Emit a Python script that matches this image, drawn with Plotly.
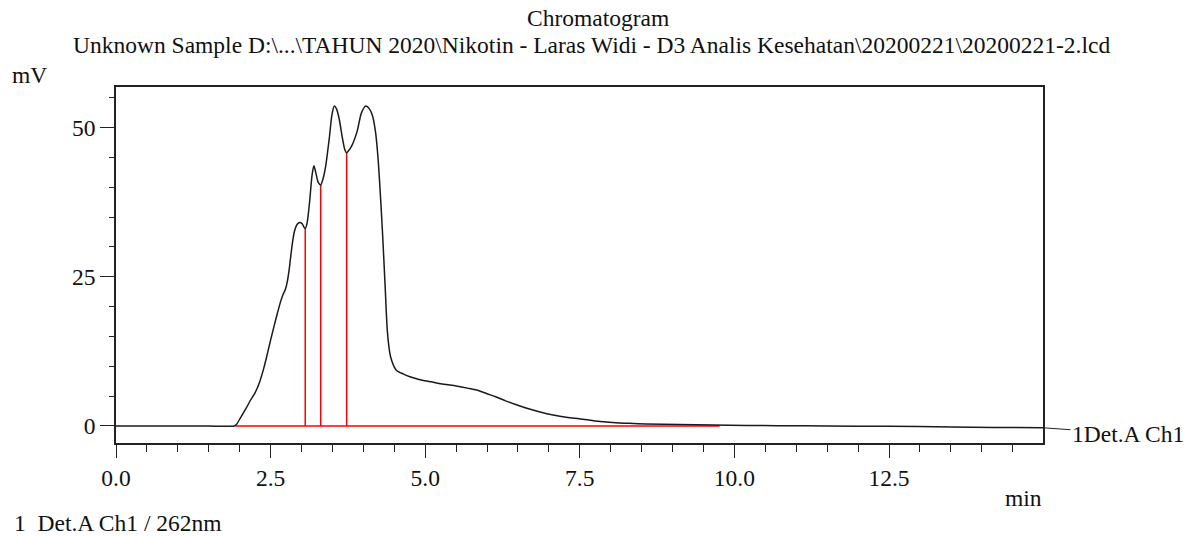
import plotly.graph_objects as go

# ---- data ----
time_min = [0.0, 0.5, 1.0, 1.5, 1.91, 1.95, 2.02, 2.10, 2.18, 2.25, 2.32, 2.39, 2.45, 2.50,
            2.56, 2.61, 2.66, 2.70, 2.74, 2.77, 2.80, 2.83, 2.86, 2.89, 2.93, 2.97, 3.01,
            3.04, 3.06, 3.09, 3.13, 3.17, 3.20, 3.23, 3.27, 3.31, 3.35, 3.39, 3.45, 3.49,
            3.53, 3.57, 3.61, 3.66, 3.70, 3.73, 3.78, 3.82, 3.90, 3.97, 4.04, 4.10, 4.15,
            4.20, 4.24, 4.28, 4.31, 4.35, 4.39, 4.44, 4.53, 4.65, 4.74, 4.9, 5.1, 5.3,
            5.5, 5.7, 5.87, 6.0, 6.14, 6.3, 6.52, 6.7, 6.95, 7.2, 7.49, 7.75, 8.03, 8.3,
            8.57, 9.1, 9.65, 10.2, 10.7, 11.5, 12.5, 13.5, 14.2, 15.0]
signal_mv = [0.0, 0.0, 0.0, 0.0, 0.0, 0.3, 1.5, 2.9, 4.4, 5.6, 7.3, 9.7, 12.2, 14.4,
             16.9, 18.9, 20.8, 22.0, 22.9, 24.2, 26.2, 28.8, 31.2, 32.8, 33.8, 34.1, 33.9,
             33.3, 33.1, 34.0, 37.5, 42.0, 43.6, 42.5, 40.8, 40.4, 41.5, 43.5, 48.3, 52.0,
             53.6, 53.0, 51.4, 48.3, 46.3, 45.8, 46.4, 47.1, 49.4, 52.5, 53.6, 53.1, 51.9,
             49.0, 44.5, 37.9, 32.3, 23.9, 15.6, 11.6, 9.4, 8.7, 8.3, 7.8, 7.4, 7.0,
             6.7, 6.3, 5.9, 5.4, 4.9, 4.2, 3.4, 2.8, 2.1, 1.6, 1.2, 0.85, 0.6, 0.45,
             0.34, 0.24, 0.17, 0.1, 0.05, 0.0, -0.05, -0.15, -0.25, -0.3]

drop_times = [3.06, 3.31, 3.73]
drop_heights = [33.1, 40.4, 45.8]
baseline_x = [1.93, 9.76]
baseline_y = [0.0, 0.0]

x_tick_vals = [0.0, 2.5, 5.0, 7.5, 10.0, 12.5]
x_tick_text = ["0.0", "2.5", "5.0", "7.5", "10.0", "12.5"]
y_tick_vals = [0, 25, 50]
y_tick_text = ["0", "25", "50"]

FONT = "Liberation Serif"
FS = 23.5

fig = go.Figure()

# red integration baseline
fig.add_trace(go.Scatter(x=baseline_x, y=baseline_y, mode="lines",
                         line=dict(color="#ff0000", width=1.5), hoverinfo="skip"))
# red drop lines
for t, h in zip(drop_times, drop_heights):
    fig.add_trace(go.Scatter(x=[t, t], y=[0, h], mode="lines",
                             line=dict(color="#ff0000", width=1.5), hoverinfo="skip"))
# chromatogram trace
fig.add_trace(go.Scatter(x=time_min, y=signal_mv, mode="lines",
                         line=dict(color="#1a1a1a", width=1.5, shape="spline", smoothing=0.7)))

L, R, T, B = 116, 153, 87, 93
W, H = 1196, 536
pw = W - L - R
ph = H - T - B

def px(xp):
    return (xp - L) / pw

def py(yp):
    return (H - B - yp) / ph

fig.update_layout(
    width=W, height=H,
    margin=dict(l=L, r=R, t=T, b=B),
    paper_bgcolor="white", plot_bgcolor="white",
    showlegend=False,
    font=dict(family=FONT, size=FS, color="#111111"),
    xaxis=dict(range=[0, 14.99], showgrid=False, zeroline=False,
               showline=True, mirror=True, linecolor="#222222", linewidth=1.5,
               tickmode="array", tickvals=x_tick_vals, ticktext=x_tick_text,
               ticks="outside", ticklen=13, tickwidth=1.3, tickcolor="#222222",
               minor=dict(dtick=0.5, tick0=0, ticks="outside", ticklen=7,
                          tickwidth=1.3, tickcolor="#222222"),
               tickfont=dict(family=FONT, size=FS)),
    yaxis=dict(range=[-2.85, 56.8], showgrid=False, zeroline=False,
               showline=True, mirror=True, linecolor="#222222", linewidth=1.5,
               tickmode="array", tickvals=y_tick_vals, ticktext=y_tick_text,
               ticks="outside", ticklen=14, tickwidth=1.3, tickcolor="#222222",
               minor=dict(dtick=5, tick0=0, ticks="outside", ticklen=5,
                          tickwidth=1.3, tickcolor="#222222"),
               tickfont=dict(family=FONT, size=FS)),
)

ann = [
    dict(text="Chromatogram", x=px(598), y=py(18), xanchor="center", yanchor="middle"),
    dict(text="Unknown Sample D:\\...\\TAHUN 2020\\Nikotin - Laras Widi - D3 Analis Kesehatan\\20200221\\20200221-2.lcd",
         x=px(591), y=py(45), xanchor="center", yanchor="middle"),
    dict(text="mV", x=px(10), y=py(75), xanchor="left", yanchor="middle"),
    dict(text="min", x=px(1044), y=py(498), xanchor="right", yanchor="middle"),
    dict(text="1  Det.A Ch1 / 262nm", x=px(12), y=py(523), xanchor="left", yanchor="middle"),
]
for a in ann:
    a.update(xref="paper", yref="paper", showarrow=False,
             font=dict(family=FONT, size=FS, color="#111111"))
    fig.add_annotation(**a)

fig.add_annotation(text="1Det.A Ch1", x=14.99, y=signal_mv[-1], xref="x", yref="y",
                   showarrow=True, arrowhead=0, arrowwidth=1, arrowcolor="#222222",
                   ax=85, ay=6, font=dict(family=FONT, size=FS, color="#111111"))

fig.write_html("out.html")
